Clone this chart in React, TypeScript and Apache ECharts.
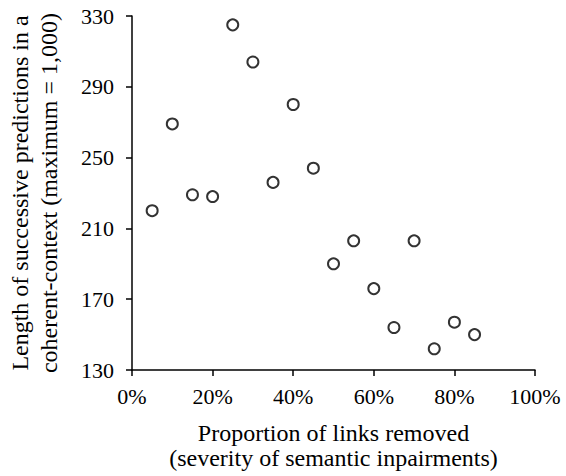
import React, { useEffect, useRef } from "react";
import * as echarts from "echarts";

const linksRemoved = [5, 10, 15, 20, 25, 30, 35, 40, 45, 50, 55, 60, 65, 70, 75, 80, 85];
const predictionLength = [220, 269, 229, 228, 325, 304, 236, 280, 244, 190, 203, 176, 154, 203, 142, 157, 150];
const xTitle = "Proportion of links removed\n(severity of semantic inpairments)";
const yTitle = "Length of successive predictions in a\ncoherent-context (maximum = 1,000)";

const FONT = "'Liberation Serif', 'Times New Roman', serif";
const FS = 22;
const TFS = 24;

export default function App() {
  const ref = useRef<HTMLDivElement>(null);
  useEffect(() => {
    if (!ref.current) return;
    const chart = echarts.init(ref.current, undefined, { renderer: "svg" });
    const axisCommon = {
      axisLine: { show: true, lineStyle: { color: "#000", width: 1.5 } },
      axisTick: { show: true, inside: false, length: 6, lineStyle: { color: "#000", width: 1.5 } },
      splitLine: { show: false },
    };
    chart.setOption({
      animation: false,
      backgroundColor: "#fff",
      grid: {
        left: 132,
        right: 31,
        top: 16,
        bottom: 106,
        containLabel: false,
        outerBoundsMode: "none",
      },
      xAxis: {
        type: "value",
        min: 0,
        max: 100,
        interval: 20,
        ...axisCommon,
        axisLabel: {
          fontFamily: FONT,
          fontSize: FS,
          color: "#000",
          margin: 15,
          formatter: (v: number) => `${v}%`,
        },
        name: xTitle,
        nameLocation: "middle",
        nameGap: 50,
        nameTextStyle: { fontFamily: FONT, fontSize: TFS, color: "#000", lineHeight: 25 },
      },
      yAxis: {
        type: "value",
        min: 130,
        max: 330,
        interval: 40,
        ...axisCommon,
        axisLabel: { fontFamily: FONT, fontSize: FS, color: "#000", margin: 18 },
        name: yTitle,
        nameLocation: "middle",
        nameGap: 69,
        nameTextStyle: { fontFamily: FONT, fontSize: TFS, color: "#000", lineHeight: 29 },
      },
      series: [
        {
          type: "scatter",
          data: linksRemoved.map((x, i) => [x, predictionLength[i]]),
          symbol: "circle",
          symbolSize: 11,
          itemStyle: { color: "#fff", borderColor: "#000", borderWidth: 2 },
        },
      ],
    });
    return () => chart.dispose();
  }, []);
  return <div ref={ref} style={{ width: 566, height: 476, position: "absolute", left: 0, top: 0 }} />;
}
